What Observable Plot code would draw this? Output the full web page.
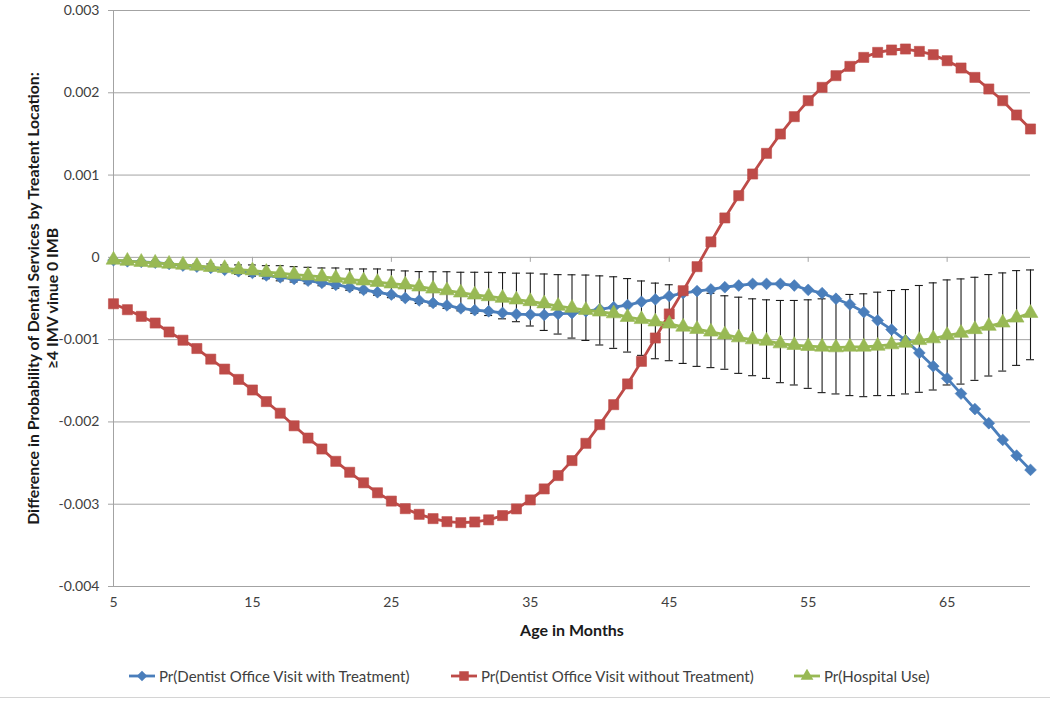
<!DOCTYPE html>
<html>
<head>
<meta charset="utf-8">
<script src="https://cdn.jsdelivr.net/npm/d3@7"></script>
<script src="https://cdn.jsdelivr.net/npm/@observablehq/plot@0.6"></script>
<style>
  body { margin: 0; background: #fff; font-family: Lato, "Open Sans", sans-serif; }
  #wrap { position: relative; width: 1050px; height: 701px; overflow: hidden; }
  #edge { position: absolute; left: 0; top: 697px; width: 1050px; height: 0; border-top: 1px solid #d4d4d4; }
  .leg { position: absolute; top: 667px; display: flex; align-items: center; font-size: 15px; color: #404040; white-space: nowrap; }
  .leg svg { margin-right: 3px; }
</style>
</head>
<body>
<div id="wrap"><div id="chart"></div><div id="edge"></div></div>
<script>
// ---- data ----
const ages = [5,6,7,8,9,10,11,12,13,14,15,16,17,18,19,20,21,22,23,24,25,26,27,28,29,30,31,32,33,34,35,36,37,38,39,40,41,42,43,44,45,46,47,48,49,50,51,52,53,54,55,56,57,58,59,60,61,62,63,64,65,66,67,68,69,70,71];

const dentistWithTreatment = [
  -0.035e-3,-0.048e-3,-0.055e-3,-0.065e-3,-0.080e-3,-0.100e-3,-0.113e-3,-0.128e-3,-0.152e-3,-0.169e-3,
  -0.189e-3,-0.220e-3,-0.242e-3,-0.262e-3,-0.284e-3,-0.310e-3,-0.334e-3,-0.363e-3,-0.395e-3,-0.424e-3,
  -0.452e-3,-0.494e-3,-0.524e-3,-0.554e-3,-0.584e-3,-0.620e-3,-0.642e-3,-0.655e-3,-0.675e-3,-0.690e-3,
  -0.695e-3,-0.700e-3,-0.688e-3,-0.677e-3,-0.655e-3,-0.632e-3,-0.606e-3,-0.580e-3,-0.540e-3,-0.510e-3,
  -0.470e-3,-0.434e-3,-0.410e-3,-0.390e-3,-0.363e-3,-0.342e-3,-0.322e-3,-0.322e-3,-0.322e-3,-0.342e-3,
  -0.395e-3,-0.435e-3,-0.503e-3,-0.572e-3,-0.665e-3,-0.766e-3,-0.878e-3,-1.008e-3,-1.161e-3,-1.322e-3,
  -1.471e-3,-1.656e-3,-1.844e-3,-2.016e-3,-2.219e-3,-2.410e-3,-2.583e-3
];

const dentistWithoutTreatment = [
  -0.564e-3,-0.636e-3,-0.717e-3,-0.798e-3,-0.907e-3,-1.007e-3,-1.108e-3,-1.237e-3,-1.358e-3,-1.483e-3,
  -1.612e-3,-1.753e-3,-1.894e-3,-2.047e-3,-2.196e-3,-2.329e-3,-2.479e-3,-2.612e-3,-2.740e-3,-2.861e-3,
  -2.962e-3,-3.054e-3,-3.123e-3,-3.175e-3,-3.212e-3,-3.224e-3,-3.216e-3,-3.190e-3,-3.138e-3,-3.057e-3,
  -2.948e-3,-2.814e-3,-2.652e-3,-2.470e-3,-2.260e-3,-2.033e-3,-1.790e-3,-1.538e-3,-1.264e-3,-0.980e-3,
  -0.688e-3,-0.405e-3,-0.113e-3,0.188e-3,0.479e-3,0.750e-3,1.013e-3,1.264e-3,1.499e-3,1.710e-3,
  1.904e-3,2.066e-3,2.208e-3,2.321e-3,2.430e-3,2.491e-3,2.520e-3,2.532e-3,2.503e-3,2.463e-3,
  2.390e-3,2.301e-3,2.187e-3,2.046e-3,1.904e-3,1.730e-3,1.560e-3
];

const hospitalUse = [
  -0.031e-3,-0.045e-3,-0.058e-3,-0.068e-3,-0.080e-3,-0.092e-3,-0.104e-3,-0.120e-3,-0.133e-3,-0.149e-3,
  -0.161e-3,-0.180e-3,-0.193e-3,-0.209e-3,-0.222e-3,-0.236e-3,-0.252e-3,-0.270e-3,-0.284e-3,-0.302e-3,
  -0.320e-3,-0.334e-3,-0.357e-3,-0.382e-3,-0.403e-3,-0.430e-3,-0.455e-3,-0.475e-3,-0.495e-3,-0.515e-3,
  -0.535e-3,-0.562e-3,-0.592e-3,-0.616e-3,-0.642e-3,-0.661e-3,-0.683e-3,-0.727e-3,-0.753e-3,-0.782e-3,
  -0.808e-3,-0.845e-3,-0.873e-3,-0.905e-3,-0.940e-3,-0.975e-3,-0.999e-3,-1.016e-3,-1.048e-3,-1.068e-3,
  -1.080e-3,-1.088e-3,-1.096e-3,-1.088e-3,-1.088e-3,-1.077e-3,-1.060e-3,-1.040e-3,-1.008e-3,-0.987e-3,
  -0.947e-3,-0.920e-3,-0.875e-3,-0.835e-3,-0.795e-3,-0.735e-3,-0.678e-3
];

// error-bar ends for the hospital-use series
const hospitalUpper = [
  -0.023e-3,-0.031e-3,-0.048e-3,-0.060e-3,-0.060e-3,-0.080e-3,-0.080e-3,-0.080e-3,-0.092e-3,-0.092e-3,
  -0.092e-3,-0.101e-3,-0.101e-3,-0.113e-3,-0.121e-3,-0.129e-3,-0.129e-3,-0.141e-3,-0.141e-3,-0.141e-3,
  -0.153e-3,-0.165e-3,-0.173e-3,-0.175e-3,-0.175e-3,-0.181e-3,-0.181e-3,-0.182e-3,-0.186e-3,-0.192e-3,
  -0.192e-3,-0.202e-3,-0.210e-3,-0.212e-3,-0.215e-3,-0.225e-3,-0.236e-3,-0.258e-3,-0.287e-3,-0.313e-3,
  -0.333e-3,-0.360e-3,-0.395e-3,-0.437e-3,-0.467e-3,-0.484e-3,-0.504e-3,-0.516e-3,-0.524e-3,-0.524e-3,
  -0.516e-3,-0.504e-3,-0.475e-3,-0.451e-3,-0.443e-3,-0.423e-3,-0.403e-3,-0.391e-3,-0.342e-3,-0.310e-3,
  -0.274e-3,-0.262e-3,-0.242e-3,-0.209e-3,-0.189e-3,-0.161e-3,-0.153e-3
];
const hospitalLower = [
  -0.040e-3,-0.060e-3,-0.068e-3,-0.075e-3,-0.100e-3,-0.105e-3,-0.130e-3,-0.160e-3,-0.175e-3,-0.205e-3,
  -0.230e-3,-0.260e-3,-0.285e-3,-0.300e-3,-0.320e-3,-0.345e-3,-0.375e-3,-0.400e-3,-0.430e-3,-0.460e-3,
  -0.490e-3,-0.520e-3,-0.560e-3,-0.590e-3,-0.620e-3,-0.650e-3,-0.680e-3,-0.707e-3,-0.747e-3,-0.782e-3,
  -0.834e-3,-0.888e-3,-0.932e-3,-0.981e-3,-1.010e-3,-1.065e-3,-1.106e-3,-1.151e-3,-1.191e-3,-1.232e-3,
  -1.256e-3,-1.289e-3,-1.325e-3,-1.340e-3,-1.360e-3,-1.410e-3,-1.438e-3,-1.471e-3,-1.523e-3,-1.551e-3,
  -1.592e-3,-1.644e-3,-1.660e-3,-1.680e-3,-1.693e-3,-1.680e-3,-1.680e-3,-1.660e-3,-1.640e-3,-1.612e-3,
  -1.551e-3,-1.540e-3,-1.495e-3,-1.442e-3,-1.382e-3,-1.313e-3,-1.244e-3
];

const xTicks = [5,15,25,35,45,55,65];
const yTicks = [-0.004,-0.003,-0.002,-0.001,0,0.001,0.002,0.003];

const seriesNames = [
  "Pr(Dentist Office Visit with Treatment)",
  "Pr(Dentist Office Visit without Treatment)",
  "Pr(Hospital Use)"
];
const seriesValues = [dentistWithTreatment, dentistWithoutTreatment, hospitalUse];
const seriesColors = ["#4A7EBB", "#BE4B48", "#98B954"];
const seriesSymbols = ["diamond2", "square", "triangle"];
const seriesR = [5.3, 5.7, 5.5];
const yTitle1 = "Difference in Probability of Dental Services by Treatent Location:";
const yTitle2 = "\u22654 IMV vinue 0 IMB";
const xTitle = "Age in Months";

// ---- tables ----
const long = [];
seriesValues.forEach((vals, s) => vals.forEach((v, i) => long.push({age: ages[i], value: v, series: seriesNames[s]})));
const errRows = ages.map((a, i) => ({age: a, hi: hospitalUpper[i], lo: hospitalLower[i]}));

const grid = "#a3a3a3";
const fmtY = d => d === 0 ? "0" : (d < 0 ? "-" : "") + Math.abs(d).toFixed(3);

const marks = [
  Plot.gridY(yTicks, {stroke: grid, strokeOpacity: 1, strokeWidth: 1}),
  Plot.ruleX([5], {stroke: grid, strokeWidth: 1}),
  Plot.ruleX(xTicks.slice(1), {y1: 0, y2: 0, insetBottom: -5, stroke: grid}),
  Plot.axisY(yTicks, {tickSize: 5, tickPadding: 9, stroke: grid, tickFormat: fmtY, fill: "#404040", fontSize: 14, label: null}),
  Plot.axisX(xTicks, {tickSize: 0, tickPadding: 11, tickFormat: d => String(d), fill: "#404040", fontSize: 14, label: null}),
  // error bars
  Plot.ruleX(errRows, {x: "age", y1: "lo", y2: "hi", stroke: "#1a1a1a", strokeWidth: 1.1}),
  Plot.ruleY(errRows, {y: "hi", x1: "age", x2: "age", insetLeft: -4, insetRight: -4, stroke: "#1a1a1a", strokeWidth: 1.1}),
  Plot.ruleY(errRows, {y: "lo", x1: "age", x2: "age", insetLeft: -4, insetRight: -4, stroke: "#1a1a1a", strokeWidth: 1.1}),
];
seriesNames.forEach((name, s) => {
  const d = long.filter(r => r.series === name);
  marks.push(Plot.line(d, {x: "age", y: "value", stroke: seriesColors[s], strokeWidth: 2.8}));
  marks.push(Plot.dot(d, {x: "age", y: "value", symbol: () => seriesSymbols[s], r: seriesR[s], fill: seriesColors[s], stroke: seriesColors[s], strokeWidth: 0.6}));
});
marks.push(
  Plot.text([yTitle1], {text: d => d, frameAnchor: "left", textAnchor: "middle", rotate: -90, dx: -80, dy: 0, fontSize: 15.8, fontWeight: "bold", fill: "#1a1a1a"}),
  Plot.text([yTitle2], {text: d => d, frameAnchor: "left", textAnchor: "middle", rotate: -90, dx: -61, dy: 0, fontSize: 15.8, fontWeight: "bold", fill: "#1a1a1a"}),
  Plot.text([xTitle], {text: d => d, frameAnchor: "bottom", dy: 49, fontSize: 16, fontWeight: "bold", fill: "#1a1a1a"})
);

const chart = Plot.plot({
  width: 1050,
  height: 650,
  marginLeft: 113,
  marginRight: 20,
  marginTop: 10,
  marginBottom: 64,
  x: {domain: [5, 71], axis: null},
  y: {domain: [-0.004, 0.003], axis: null},
  symbol: {type: "identity"},
  style: {fontFamily: "Lato, 'Open Sans', sans-serif", background: "#fff", overflow: "visible"},
  marks
});
document.getElementById("chart").appendChild(chart);

// ---- legend below the SVG ----
const legLefts = [128, 450, 793];
const wrap = document.getElementById("wrap");
seriesNames.forEach((name, s) => {
  const div = document.createElement("div");
  div.className = "leg";
  div.style.left = legLefts[s] + "px";
  const sym = d3.symbol(s === 0 ? d3.symbolDiamond2 : s === 1 ? d3.symbolSquare : d3.symbolTriangle, s === 1 ? 90 : 70)();
  div.innerHTML = `<svg width="28" height="14"><line x1="1" x2="27" y1="7" y2="7" stroke="${seriesColors[s]}" stroke-width="2.8"/><path transform="translate(14,7)" d="${sym}" fill="${seriesColors[s]}"/></svg><span>${name}</span>`;
  wrap.appendChild(div);
});
</script>
</body>
</html>
